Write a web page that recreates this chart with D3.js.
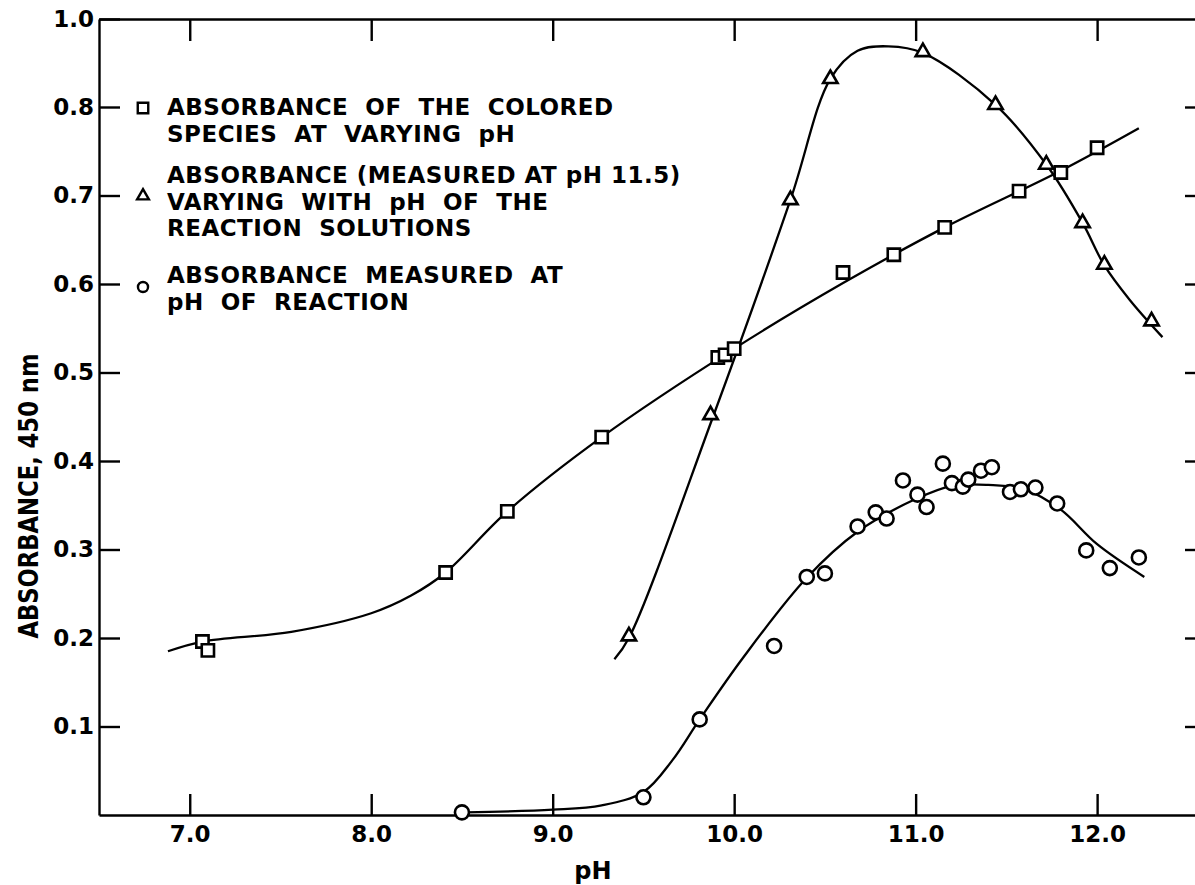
<!DOCTYPE html>
<html>
<head>
<meta charset="utf-8">
<script src="https://cdn.jsdelivr.net/npm/d3@7/dist/d3.min.js"></script>
<style>
  body { margin: 0; background: #fff; }
  svg text { font-family: "DejaVu Sans", sans-serif; font-weight: bold; fill: #000; }
</style>
</head>
<body>
<script>
// tick values
const xTicks = [7, 8, 9, 10, 11, 12];
const yTicks = [0.1, 0.2, 0.3, 0.4, 0.5, 0.6, 0.7, 0.8, 1.0];

// squares - absorbance of the colored species
const squarePH  = [7.07, 7.10, 8.41, 8.75, 9.27, 9.91, 9.95, 10.0, 10.60, 10.88, 11.16, 11.57, 11.80, 12.0];
const squareAbs = [0.196, 0.186, 0.274, 0.343, 0.427, 0.517, 0.520, 0.527, 0.613, 0.633, 0.664, 0.705, 0.726, 0.754];
const squareCurvePH  = [6.88, 7.07, 7.56, 8.0, 8.22, 8.41, 8.75, 9.27, 10.0, 10.6, 11.16, 11.8, 12.23];
const squareCurveAbs = [0.185, 0.196, 0.207, 0.228, 0.248, 0.274, 0.343, 0.427, 0.527, 0.601, 0.664, 0.728, 0.776];

// triangles - measured at pH 11.5
const trianglePH  = [9.42, 9.87, 10.31, 10.53, 11.04, 11.44, 11.72, 11.92, 12.04, 12.30];
const triangleAbs = [0.202, 0.452, 0.695, 0.864, 0.925, 0.805, 0.735, 0.669, 0.622, 0.558];
const triangleCurvePH  = [9.34, 9.42, 9.88, 10.31, 10.53, 10.68, 10.85, 11.04, 11.44, 11.72, 11.92, 12.04, 12.18, 12.36];
const triangleCurveAbs = [0.176, 0.200, 0.448, 0.695, 0.864, 0.928, 0.938, 0.923, 0.805, 0.735, 0.669, 0.621, 0.582, 0.540];

// circles - measured at pH of reaction
const circlePH  = [8.50, 9.50, 9.81, 10.22, 10.40, 10.50, 10.68, 10.78, 10.84, 10.93, 11.01, 11.06, 11.15, 11.20, 11.26, 11.29, 11.36, 11.42, 11.52, 11.58, 11.66, 11.78, 11.94, 12.07, 12.23];
const circleAbs = [0.003, 0.020, 0.108, 0.191, 0.269, 0.273, 0.326, 0.342, 0.335, 0.378, 0.362, 0.348, 0.397, 0.375, 0.371, 0.379, 0.389, 0.393, 0.365, 0.368, 0.370, 0.352, 0.299, 0.279, 0.291];
const circleCurvePH  = [8.52, 9.0, 9.27, 9.50, 9.66, 9.81, 10.05, 10.40, 10.68, 11.0, 11.2, 11.4, 11.6, 11.8, 12.0, 12.26];
const circleCurveAbs = [0.003, 0.006, 0.011, 0.026, 0.062, 0.108, 0.178, 0.268, 0.320, 0.357, 0.372, 0.373, 0.368, 0.345, 0.306, 0.269];

// legend text, one entry per marker
const legendLines = [
  ["ABSORBANCE  OF  THE  COLORED", "SPECIES  AT  VARYING  pH"],
  ["ABSORBANCE (MEASURED AT pH 11.5)", "VARYING  WITH  pH  OF  THE", "REACTION  SOLUTIONS"],
  ["ABSORBANCE  MEASURED  AT", "pH  OF  REACTION"]
];

const width = 1195, height = 885;
const plotLeft = 99, plotRight = 1206, plotTop = 19, plotBottom = 815;

const svg = d3.select("body").append("svg")
  .attr("width", width)
  .attr("height", height)
  .style("display", "block");

svg.append("rect").attr("width", width).attr("height", height).attr("fill", "#fff");

const x = d3.scaleLinear().domain([6.5, 12.6]).range([plotLeft, plotRight]);
// the printed axis puts "1.0" where 0.9 would fall, so the top segment is squeezed
const y = d3.scaleLinear().domain([0, 0.8, 1.0]).range([plotBottom, 107, plotTop]);

const axisStyle = g => {
  g.selectAll("path, line").attr("stroke", "#000").attr("stroke-width", 2.4);
  g.selectAll("text").attr("font-size", 23).attr("fill", "#000")
    .style("font-family", "'DejaVu Sans', sans-serif").style("font-weight", "bold");
};

svg.append("g")
  .attr("transform", `translate(0,${plotBottom})`)
  .call(d3.axisBottom(x).tickValues(xTicks).tickSize(-21).tickSizeOuter(0).tickPadding(11).tickFormat(d3.format(".1f")))
  .call(axisStyle);

svg.append("g")
  .attr("transform", `translate(0,${plotTop})`)
  .call(d3.axisTop(x).tickValues(xTicks).tickSize(-22).tickSizeOuter(0).tickFormat(""))
  .call(axisStyle);

svg.append("g")
  .attr("transform", `translate(${plotLeft},0)`)
  .call(d3.axisLeft(y).tickValues(yTicks).tickSize(-21).tickSizeOuter(0).tickPadding(5).tickFormat(d3.format(".1f")))
  .call(axisStyle);

svg.append("g")
  .attr("transform", `translate(${plotRight},0)`)
  .call(d3.axisRight(y).tickValues(yTicks.slice(0, 8)).tickSize(-21).tickSizeOuter(0).tickFormat(""))
  .call(axisStyle);

// axis titles
svg.append("text")
  .attr("transform", "translate(38,496) rotate(-90)")
  .attr("text-anchor", "middle")
  .attr("font-size", 26)
  .attr("textLength", 285)
  .attr("lengthAdjust", "spacingAndGlyphs")
  .style("font-family", "'DejaVu Sans Condensed', 'DejaVu Sans', sans-serif")
  .text("ABSORBANCE, 450 nm");

svg.append("text")
  .attr("x", 593)
  .attr("y", 879)
  .attr("text-anchor", "middle")
  .attr("font-size", 24)
  .text("pH");

// fitted curves
const zip = (a, b) => a.map((v, i) => [v, b[i]]);
const line = d3.line().x(d => x(d[0])).y(d => y(d[1])).curve(d3.curveCatmullRom.alpha(0.5));

const curves = [
  zip(squareCurvePH, squareCurveAbs),
  zip(triangleCurvePH, triangleCurveAbs),
  zip(circleCurvePH, circleCurveAbs)
];
svg.append("g").selectAll("path")
  .data(curves)
  .enter().append("path")
  .attr("d", line)
  .attr("fill", "none")
  .attr("stroke", "#000")
  .attr("stroke-width", 2.3);

// markers
const markerStroke = 2.6;
svg.append("g").selectAll("path")
  .data(zip(squarePH, squareAbs))
  .enter().append("path")
  .attr("transform", d => `translate(${x(d[0])},${y(d[1])})`)
  .attr("d", d3.symbol(d3.symbolSquare, 150)())
  .attr("fill", "#fff").attr("stroke", "#000").attr("stroke-width", markerStroke);

svg.append("g").selectAll("path")
  .data(zip(trianglePH, triangleAbs))
  .enter().append("path")
  .attr("transform", d => `translate(${x(d[0])},${y(d[1])})`)
  .attr("d", d3.symbol(d3.symbolTriangle, 90)())
  .attr("fill", "#fff").attr("stroke", "#000").attr("stroke-width", markerStroke);

svg.append("g").selectAll("circle")
  .data(zip(circlePH, circleAbs))
  .enter().append("circle")
  .attr("cx", d => x(d[0]))
  .attr("cy", d => y(d[1]))
  .attr("r", 7)
  .attr("fill", "#fff").attr("stroke", "#000").attr("stroke-width", markerStroke);

// legend
const legendSymbols = [d3.symbolSquare, d3.symbolTriangle, d3.symbolCircle];
const legendSizes = [110, 60, 80];
const legendMarkerY = [108, 196, 287];
const legendTextY = [115, 183, 283];
const lineGap = 26.5;

const legend = svg.append("g");
legendLines.forEach((lines, i) => {
  legend.append("path")
    .attr("transform", `translate(143,${legendMarkerY[i]})`)
    .attr("d", d3.symbol(legendSymbols[i], legendSizes[i])())
    .attr("fill", "#fff").attr("stroke", "#000").attr("stroke-width", 2.4);
  lines.forEach((t, j) => {
    legend.append("text")
      .attr("x", 167)
      .attr("y", legendTextY[i] + j * lineGap)
      .attr("font-size", 23)
      .attr("letter-spacing", 0.5)
      .style("white-space", "pre")
      .text(t);
  });
});
</script>
</body>
</html>
